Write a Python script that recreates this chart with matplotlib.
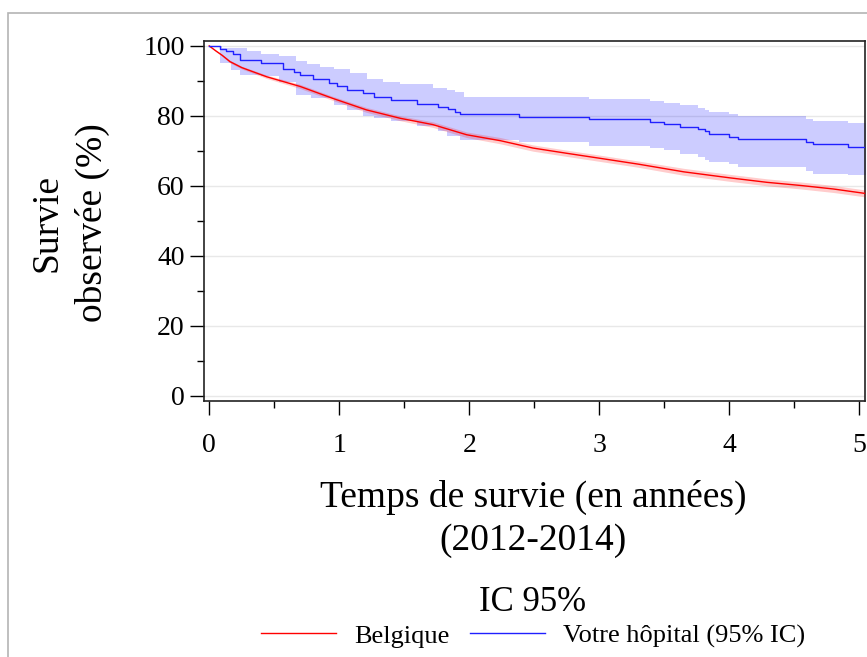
import numpy as np
import matplotlib
matplotlib.use("Agg")
import matplotlib.pyplot as plt
from matplotlib.patches import Rectangle
from matplotlib.ticker import MultipleLocator

plt.rcParams['font.family'] = ['Liberation Serif', 'DejaVu Serif']

# Belgique (reference curve with its 95% band)
bel_t = [0, 0.05, 0.10, 0.16, 0.25, 0.44, 0.70, 0.95, 1.21, 1.47, 1.72, 1.98,
         2.24, 2.49, 2.75, 3.00, 3.30, 3.65, 4.00, 4.29, 4.55, 4.80, 5.05]
bel_s = [100, 98.6, 97.3, 95.5, 93.8, 91.2, 88.4, 85.0, 81.7, 79.3, 77.5, 74.6,
         72.9, 70.8, 69.3, 67.9, 66.2, 64.0, 62.3, 61.0, 60.1, 59.1, 57.8]
bel_lo = [100, 98.4, 97.0, 95.1, 93.4, 90.7, 87.8, 84.4, 81.0, 78.6, 76.7, 73.8,
          72.0, 69.9, 68.4, 67.0, 65.3, 63.0, 61.3, 60.0, 59.1, 58.1, 56.8]
bel_hi = [100, 98.8, 97.6, 95.9, 94.2, 91.7, 89.0, 85.6, 82.4, 80.0, 78.3, 75.4,
          73.8, 71.7, 70.2, 68.8, 67.1, 65.0, 63.3, 62.0, 61.1, 60.1, 58.8]

# Votre hopital (Kaplan-Meier steps)
hop_t = [0, 0.08, 0.13, 0.18, 0.24, 0.40, 0.57, 0.65, 0.70, 0.80, 0.92, 0.98,
         1.06, 1.18, 1.27, 1.40, 1.60, 1.76, 1.84, 1.89, 1.93, 2.38, 2.92, 3.39,
         3.50, 3.62, 3.76, 3.81, 3.84, 4.00, 4.07, 4.59, 4.64, 4.91]
hop_s = [100, 99.1, 98.4, 97.7, 96.1, 95.0, 93.3, 92.4, 91.6, 90.4, 89.4, 88.5,
         87.4, 86.4, 85.5, 84.5, 83.4, 82.6, 81.9, 81.2, 80.6, 79.8, 79.1, 78.3,
         77.7, 76.9, 76.2, 75.6, 74.9, 74.1, 73.4, 72.6, 72.0, 71.1]

band_t = [0, 0.08, 0.10, 0.17, 0.24, 0.29, 0.40, 0.54, 0.67, 0.75, 0.78, 0.85,
          0.96, 1.06, 1.08, 1.18, 1.21, 1.27, 1.34, 1.40, 1.47, 1.60, 1.72, 1.76,
          1.83, 1.89, 1.93, 1.96, 2.38, 2.92, 3.39, 3.50, 3.62, 3.76, 3.81, 3.84,
          4.00, 4.07, 4.59, 4.64, 4.91]
band_lo = [100, 95.0, 95.0, 93.2, 91.6, 91.6, 91.3, 89.7, 85.9, 85.9, 85.1, 85.1,
           83.1, 81.7, 81.7, 80.0, 80.0, 79.3, 79.3, 78.4, 78.4, 77.0, 77.0, 75.6,
           74.3, 74.3, 73.2, 73.2, 72.5, 71.5, 70.8, 70.2, 69.2, 68.3, 67.5, 66.8,
           66.1, 65.4, 64.2, 63.3, 63.1]
band_hi = [100, 100, 99.3, 99.3, 99.3, 98.4, 97.7, 97.0, 95.6, 94.9, 94.9, 94.1,
           93.3, 93.3, 92.2, 92.2, 90.5, 90.5, 89.8, 89.8, 89.2, 89.2, 88.1, 88.1,
           87.4, 86.8, 86.8, 85.5, 85.3, 84.8, 84.3, 83.6, 83.0, 82.3, 81.7, 81.0,
           80.6, 80.0, 79.1, 78.5, 77.9]

t_end = 5.05
x_ticks = [0, 1, 2, 3, 4, 5]
y_ticks = [0, 20, 40, 60, 80, 100]

fig = plt.figure(figsize=(8.67, 6.57), dpi=100)
fig.patch.set_facecolor('white')

# light grey frame around the graphic
fig.patches.append(Rectangle((8 / 867, -0.1), 1.2, (657 - 13) / 657 + 0.1,
                             transform=fig.transFigure, fill=False,
                             edgecolor='#b4b4b4', linewidth=1.2))

ax = fig.add_axes([204 / 867, 1 - 401 / 657, (865 - 204) / 867, (401 - 41) / 657])

# bands
ax.fill_between(np.append(band_t, t_end), np.append(band_lo, band_lo[-1]),
                np.append(band_hi, band_hi[-1]), step='post',
                color=(0, 0, 1), alpha=0.2, linewidth=0, zorder=2)
ax.fill_between(bel_t, bel_lo, bel_hi, color=(1, 0, 0), alpha=0.2,
                linewidth=0, zorder=3)

# curves
ax.plot(bel_t, bel_s, color='#ff0000', linewidth=1.0, zorder=4, label='Belgique')
ax.step(np.append(hop_t, t_end), np.append(hop_s, hop_s[-1]), where='post',
        color='#2020ff', linewidth=1.0, zorder=5, label='Votre hôpital (95% IC)')

ax.set_xlim(-0.04, 5.043)
ax.set_ylim(-1.5, 101.4)
ax.set_xticks(x_ticks)
ax.set_yticks(y_ticks)
ax.xaxis.set_minor_locator(MultipleLocator(0.5))
ax.yaxis.set_minor_locator(MultipleLocator(10))
ax.tick_params(which='major', length=10, width=1, labelsize=20, direction='out')
ax.tick_params(which='minor', length=5, width=1, direction='out')
ax.tick_params(axis='x', which='major', pad=13)
ax.tick_params(axis='y', which='major', pad=4)

ax.grid(axis='y', which='major', color='#e8e8e8', linewidth=1)
ax.set_axisbelow(True)
for s in ax.spines.values():
    s.set_linewidth(1.2)
    s.set_color('#222222')

fig.text(533 / 867, 1 - 519 / 657, "Temps de survie (en années)\n(2012-2014)",
         ha='center', va='center', fontsize=27, linespacing=1.3)
fig.text(70 / 867, 1 - 223 / 657, "Survie\nobservée (%)", rotation=90,
         ha='center', va='center', fontsize=27, linespacing=1.35)

leg = fig.legend(loc='center', bbox_to_anchor=(533 / 867, 1 - 617 / 657), ncol=2,
                 frameon=False, fontsize=19, title='IC 95%', title_fontsize=25,
                 handlelength=2.85, handletextpad=0.68, columnspacing=0.75,
                 borderpad=0, labelspacing=0.2)

plt.savefig("out.png", dpi=100)
